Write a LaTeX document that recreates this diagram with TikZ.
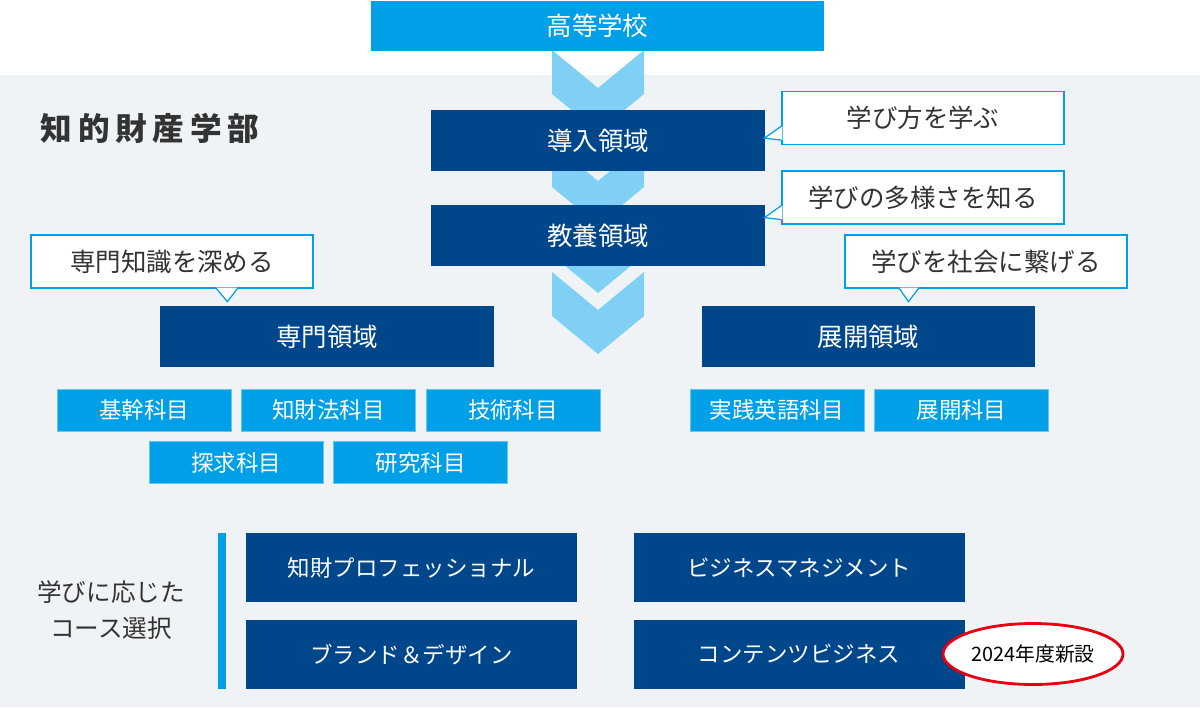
\documentclass[tikz,border=0pt]{standalone}
\usepackage{fontspec}
\setmainfont{Noto Sans CJK JP}
\newfontfamily\titlefont[LetterSpace=18]{Noto Sans CJK JP}
\usepackage{xcolor}
\usetikzlibrary{shapes.geometric, positioning, calc}

\definecolor{skyblue}{HTML}{00A0E9}
\definecolor{chevblue}{HTML}{80CFF4}
\definecolor{navy}{HTML}{00468A}
\definecolor{paleground}{HTML}{F0F3F6}
\definecolor{inkgray}{HTML}{333333}
\definecolor{newred}{HTML}{E60012}

\begin{document}
\begin{tikzpicture}[
  x = 0.02cm, y = -0.02cm,
  node distance = 0.2cm and 0.2cm,
  topbox/.style  = {rectangle, fill=skyblue, text=white, inner sep=0pt,
                    minimum width=9.06cm, minimum height=1.0cm,
                    font=\fontsize{14.5}{17}\selectfont},
  area/.style    = {rectangle, fill=navy, text=white, inner sep=0pt,
                    minimum width=6.68cm, minimum height=1.22cm,
                    font=\fontsize{14.5}{17}\selectfont},
  subj/.style    = {rectangle, fill=skyblue, draw=skyblue!60, line width=0.3pt,
                    text=white, inner sep=0pt,
                    minimum width=3.48cm, minimum height=0.84cm,
                    font=\fontsize{12.8}{15}\selectfont},
  course/.style  = {rectangle, fill=navy, text=white, inner sep=0pt,
                    minimum width=6.62cm, minimum height=1.38cm,
                    font=\fontsize{12.8}{15}\selectfont},
  callout/.style = {rectangle, fill=white, draw=skyblue, line width=0.7pt,
                    text=inkgray, inner sep=0pt,
                    minimum width=5.64cm, minimum height=1.06cm,
                    font=\fontsize{14.5}{17}\selectfont},
  tail/.style    = {draw=skyblue, line width=0.7pt},
  newtag/.style  = {ellipse, fill=white, draw=newred, line width=1.6pt,
                    minimum width=3.6cm, minimum height=1.22cm, inner sep=0pt,
                    text=black, font=\fontsize{11.3}{13}\selectfont},
  chev/.style    = {fill=chevblue},
]
\useasboundingbox (0,0) rectangle (1200,707);

%% ── Background bands ─────────────────────────────────────────────────────
\fill[white]      (0,0)  rectangle (1200,75);
\fill[paleground] (0,75) rectangle (1200,707);

%% ── Chevrons down the middle ─────────────────────────────────────────────
\foreach \y in {50,143,211,272}
  \fill[chev] (552,\y) -- (598,\y+38) -- (644,\y) -- (644,\y+44)
              -- (598,\y+82) -- (552,\y+44) -- cycle;

%% ── Main areas ───────────────────────────────────────────────────────────
\node[topbox] (school)  at (597.5,26)  {高等学校};
\node[area]   (intro)   at (598,140.5) {導入領域};
\node[area]   (liberal) at (598,235.5) {教養領域};
\node[area]   (senmon)  at (327,336.5) {専門領域};
\node[area]   (tenkai)  at (868.5,336.5) {展開領域};

\node[text=inkgray, font=\titlefont\bfseries\fontsize{18}{21}\selectfont]
     (faculty) at (150,128) {知的財産学部};

%% ── Callouts ─────────────────────────────────────────────────────────────
\node[callout] (learn1) at (923,118)   {学び方を学ぶ};
\node[callout] (learn2) at (923,197.5) {学びの多様さを知る};
\node[callout] (learn3) at (986,261.5) {学びを社会に繋げる};
\node[callout] (learn4) at (172,261.5) {専門知識を深める};

\coordinate (tip1) at ($(learn1.south west)+(-17,-7)$);
\coordinate (tip2) at ($(learn2.south west)+(-17,-7)$);
\coordinate (tip3) at ($(learn3.south west)+(64,13)$);
\coordinate (tip4) at ($(learn4.south west)+(197,13)$);

\fill[white] ($(learn1.south west)+(1,-19)$) -- (tip1) -- ($(learn1.south west)+(1,-5)$) -- cycle;
\draw[tail]  ($(learn1.south west)+(0,-19)$) -- (tip1) -- ($(learn1.south west)+(0,-5)$);
\fill[white] ($(learn2.south west)+(1,-19)$) -- (tip2) -- ($(learn2.south west)+(1,-5)$) -- cycle;
\draw[tail]  ($(learn2.south west)+(0,-19)$) -- (tip2) -- ($(learn2.south west)+(0,-5)$);
\fill[white] ($(learn3.south west)+(55,-1)$) -- (tip3) -- ($(learn3.south west)+(74,-1)$) -- cycle;
\draw[tail]  ($(learn3.south west)+(55,0)$)  -- (tip3) -- ($(learn3.south west)+(74,0)$);
\fill[white] ($(learn4.south west)+(186,-1)$) -- (tip4) -- ($(learn4.south west)+(207,-1)$) -- cycle;
\draw[tail]  ($(learn4.south west)+(186,0)$)  -- (tip4) -- ($(learn4.south west)+(207,0)$);

%% ── Subjects ─────────────────────────────────────────────────────────────
\node[subj] (kikan)    at (144,410)         {基幹科目};
\node[subj, right=of kikan]    (chizaiho)  {知財法科目};
\node[subj, right=of chizaiho] (gijutsu)   {技術科目};
\coordinate (row2) at ($(kikan.south)!0.5!(chizaiho.south)$);
\node[subj, below=of row2]     (tankyu)    {探求科目};
\node[subj, right=of tankyu]   (kenkyu)    {研究科目};

\node[subj] (jissen)   at (777,410)         {実践英語科目};
\node[subj, right=of jissen]   (tenkaisub) {展開科目};

%% ── Courses ──────────────────────────────────────────────────────────────
\node[course] (chizaipro) at (411.5,567.5) {知財プロフェッショナル};
\node[course, below=0.34cm of chizaipro]  (brand)    {ブランド＆デザイン};
\node[course, right=1.12cm of chizaipro]  (business) {ビジネスマネジメント};
\node[course, below=0.34cm of business]   (contents) {コンテンツビジネス};

\fill[skyblue] ($(chizaipro.north west)+(-28,0)$) rectangle ($(brand.south west)+(-20,0)$);

\node[align=center, text=inkgray, font=\fontsize{14}{20.4}\selectfont]
     (choose) at (111,610) {学びに応じた\\コース選択};

\node[newtag] (new2024) at (1033,654) {2024年度新設};

\end{tikzpicture}
\end{document}
